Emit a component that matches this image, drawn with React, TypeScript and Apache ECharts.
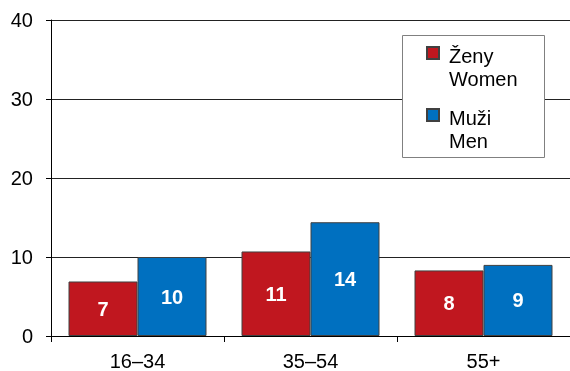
import React, { useEffect, useRef } from "react";
import * as echarts from "echarts";

const categories = ["16–34", "35–54", "55+"];
const women = [6.9, 10.7, 8.3];
const men = [10.0, 14.4, 9.0];
const seriesNames = ["Ženy\nWomen", "Muži\nMen"];
const yTicks = { min: 0, max: 40, interval: 10 };

const FONT = '"Liberation Sans", Arial, sans-serif';

export default function App() {
  const ref = useRef<HTMLDivElement>(null);
  useEffect(() => {
    if (!ref.current) return;
    const chart = echarts.init(ref.current, null, { renderer: "svg" });
    const labelCfg = {
      show: true,
      position: "inside",
      color: "#ffffff",
      fontSize: 20,
      fontWeight: "bold",
      fontFamily: FONT,
      formatter: (p: any) => String(Math.round(p.value)),
    };
    chart.setOption({
      animation: false,
      textStyle: { fontFamily: FONT },
      grid: { left: 51, right: -3, top: 20, bottom: 34, containLabel: false },
      xAxis: {
        type: "category",
        data: categories,
        axisLine: { lineStyle: { color: "#000", width: 1 } },
        axisTick: { show: true, length: 6, lineStyle: { color: "#000" } },
        axisLabel: { color: "#000", fontSize: 20, fontFamily: FONT, margin: 15 },
      },
      yAxis: {
        type: "value",
        min: yTicks.min,
        max: yTicks.max,
        interval: yTicks.interval,
        axisLine: { show: true, lineStyle: { color: "#000", width: 1 } },
        axisTick: { show: true, length: 5, lineStyle: { color: "#000" } },
        axisLabel: { color: "#000", fontSize: 20, fontFamily: FONT, margin: 18 },
        splitLine: { show: true, lineStyle: { color: "#222", width: 1 } },
      },
      legend: {
        orient: "vertical",
        left: 426,
        top: 20,
        padding: 0,
        itemGap: -7,
        itemWidth: 12,
        itemHeight: 12,
        icon: "rect",
        formatter: (name: string) =>
          "{b| }\n" + name.split("\n").map((s) => "{a|" + s + "}").join("\n"),
        textStyle: {
          color: "#000",
          fontSize: 20,
          fontFamily: FONT,
          rich: {
            a: { fontSize: 20, lineHeight: 23, color: "#000", fontFamily: FONT, padding: [0, 0, 0, 5] },
            b: { fontSize: 20, lineHeight: 29, color: "#000", fontFamily: FONT },
          },
        },
        data: seriesNames,
      },
      graphic: [
        {
          type: "rect",
          z: 3,
          shape: { x: 402.5, y: 35.5, width: 142, height: 122 },
          style: { fill: "#fff", stroke: "#808080", lineWidth: 1 },
        },
      ],
      series: [
        {
          name: seriesNames[0],
          type: "bar",
          data: women,
          barWidth: 69,
          barGap: "0%",
          itemStyle: { color: "#C0171F", borderColor: "#404040", borderWidth: 1 },
          label: labelCfg,
        },
        {
          name: seriesNames[1],
          type: "bar",
          data: men,
          barWidth: 69,
          barGap: "0%",
          itemStyle: { color: "#0070C0", borderColor: "#404040", borderWidth: 1 },
          label: labelCfg,
        },
      ],
    });
    return () => chart.dispose();
  }, []);
  return (
    <div
      ref={ref}
      style={{ position: "fixed", left: 0, top: 0, width: 570, height: 371 }}
    />
  );
}
